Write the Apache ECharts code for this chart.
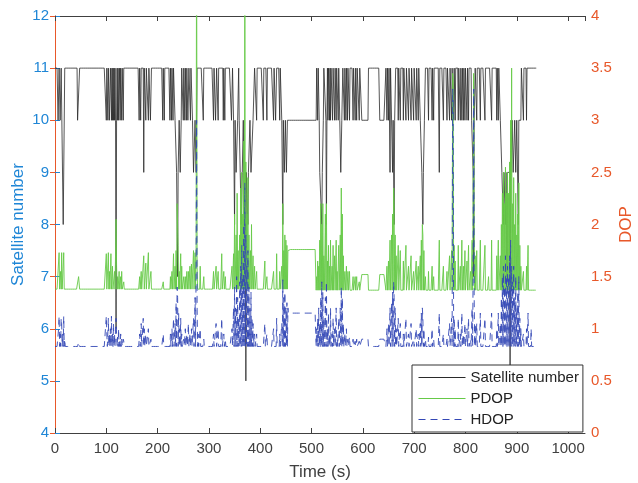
<!DOCTYPE html>
<html>
<head>
<meta charset="utf-8">
<script src="https://cdn.jsdelivr.net/npm/echarts@6/dist/echarts.min.js"></script>
<style>
  html, body { margin: 0; padding: 0; background: #fff; }
  #chart { width: 638px; height: 483px; }
</style>
</head>
<body>
<div id="chart"></div>
<script>
// satellite number: [time s, value] - value holds until the next change
var satSteps = [
  [0,11],[6,10],[8,11],[10,10],[12,11],[16,8],[19,11],[44,10],[48,11],
  [100,10],[101,11],[103,10],[104,11],[106,10],[108,11],[110,10],[111,11],[112,10],[113,11],[114,10],[115,11],[116,10],[117,11],[118,10],[119,6],[120,10],[121,11],[122,10],[123,11],[124,10],[126,11],[127,10],[128,11],[130,10],[131,11],[133,10],[134,11],
  [164,10],[165,11],[167,10],[168,11],[173,9],[174,11],[177,10],[178,11],[182,10],[183,11],[186,10],[188,11],
  [210,10],[211,11],[213,10],[214,11],
  [224,10],[225,11],[227,10],[228,11],[230,10],[231,11],[234,10],[237,9],[239,7],[240,9],[242,10],[244,9],[246,10],[247,11],
  [250,10],[251,11],[253,10],[254,11],[256,10],[257,11],[259,10],[261,11],[264,10],[265,11],[268,10],[270,9],[273,10],[275,9],[277,11],
  [289,10],[290,11],[309,10],[310,11],[313,10],[315,11],[318,10],[319,11],[328,10],[329,11],[331,10],[332,11],[344,10],[346,11],[348,10],[350,8],[351,10],[353,9],[356,10],[358,11],[359,10],[361,9],[363,8],[365,9],[367,10],[369,8],[371,9],[372,5],[373,9],[376,8],[377,9],[380,10],[382,9],[386,10],[389,11],
  [393,10],[394,11],[406,10],[407,11],[413,10],[414,11],[426,10],[427,11],[430,10],[432,11],[438,10],[439,11],
  [442,10],[444,8],[445,10],[447,9],[449,10],[451,9],[453,10],
  [510,11],[512,10],[513,11],[515,10],[516,9],[520,8],[521,9],[523,10],[524,11],[528,10],[529,8],[530,10],[531,11],[532,10],[533,11],[535,10],[536,11],[537,10],[538,11],[541,10],[542,11],[545,10],[546,11],[548,10],[549,11],[552,10],[553,11],[555,10],[557,9],[559,10],[561,11],[564,10],[565,11],[567,10],[568,11],[570,10],[571,11],[574,10],[575,11],[581,10],[582,11],[585,10],[586,11],[588,10],[589,11],[593,10],[594,11],
  [598,10],[611,11],[633,10],[645,11],[647,10],[648,11],[650,10],[651,11],[653,9],[654,11],[658,9],[659,10],[661,8],[662,10],[664,11],
  [669,10],[670,11],[673,10],[674,11],[679,10],[680,11],[684,10],[685,11],[689,10],[690,11],[694,10],[695,11],[699,10],[700,11],[704,10],[705,11],[708,10],[709,11],[712,10],[715,9],[717,8],[718,9],[720,10],[722,11],
  [728,10],[729,11],[735,10],[736,11],[738,10],[739,11],[749,9],[750,11],[757,10],[758,11],[764,10],[765,11],
  [769,10],[770,11],[773,10],[774,11],[777,10],[778,11],[780,10],[781,11],[786,10],[787,11],[790,10],[791,11],[793,10],[794,11],[796,10],[797,11],[799,10],[800,11],[803,10],[804,11],[806,10],[807,11],[812,10],[815,9],[816,7],[817,10],[819,11],
  [822,10],[823,11],[829,10],[830,11],[838,10],[839,11],[851,10],[852,11],[861,10],[862,11],[864,10],[865,11],
  [868,10],[871,9],[874,8],[875,9],[878,8],[879,9],[881,7],[882,9],[887,5],[888,9],[891,10],[893,9],[896,10],[898,9],[900,10],[903,8],[904,10],[909,11],[913,10],[914,11],[919,10],[920,11]
];
var endTime = 938;

// DOP base levels [start time, level]
var pdopBase = [[0,1.38],[455,1.76],[509,1.37],[598,1.52],[611,1.37],[633,1.52],[645,1.37]];
var hdopBase = [[0,0.83],[455,1.15],[509,0.83],[598,0.9],[611,0.83],[633,0.9],[645,0.83]];

// single-second DOP peaks [time s, value]
var pdopPeaks = [
  [8,1.73],[11,1.55],[13,1.73],[17,1.73],[46,1.5],[47,1.5],
  [100,1.72],[104,1.73],[106,1.55],[109,1.72],[112,1.6],[116,1.55],[119,2.05],[120,1.6],[122,1.5],[125,1.55],[128,1.5],[130,1.55],[134,1.45],
  [165,1.5],[168,1.55],[173,1.7],[177,1.63],[182,1.73],[187,1.55],
  [211,1.45],[225,1.5],[228,1.55],[231,1.72],[234,1.6],[236,1.75],[238,2.2],[239,2.2],[240,1.8],[242,1.55],[245,1.72],[247,1.6],[251,1.5],[254,1.5],[257,1.55],[260,1.55],[263,1.6],[266,1.62],[270,1.75],[273,1.73],[275,1.8],[276,5],[277,1.6],[283,1.6],
  [290,1.5],[309,1.55],[314,1.6],[318,1.55],[325,1.72],[329,1.55],[332,1.5],[345,1.6],[348,1.72],[350,2.1],[353,1.9],[355,2.3],[357,1.75],[360,1.9],[362,2.35],[364,2.5],[366,2.1],[368,2.8],[370,5],[372,2.6],[374,2.1],[376,2.45],[378,1.9],[381,1.75],[383,2.0],[386,1.7],[389,1.6],[393,1.55],
  [409,1.65],[413,1.5],[426,1.55],[432,1.72],[438,1.55],[442,1.6],[444,2.2],[446,1.75],[448,1.9],[450,1.85],[452,1.8],[454,1.75],
  [510,1.5],[512,1.65],[514,1.6],[516,1.85],[518,2.2],[520,2.0],[522,2.2],[524,1.7],[527,2.1],[529,2.2],[531,1.65],[533,1.8],[535,1.6],[537,1.85],[540,1.6],[542,1.8],[545,1.7],[548,1.85],[550,1.55],[553,1.8],[556,1.9],[558,2.35],[560,2.1],[562,1.7],[565,1.55],[568,1.6],[571,1.55],[574,1.55],[581,1.5],[585,1.5],[588,1.5],[593,1.45],
  [647,1.6],[650,1.65],[653,1.85],[656,1.9],[658,2.1],[660,2.35],[661,2.2],[663,1.9],[665,1.7],[669,1.8],[673,1.75],[679,1.65],[684,1.8],[689,1.6],[694,1.7],[699,1.55],[704,1.65],[708,1.6],[712,1.7],[714,1.85],[716,2.0],[717,1.9],[719,1.75],[722,1.5],
  [728,1.55],[735,1.6],[738,1.5],[749,1.85],[757,1.6],[764,1.55],
  [769,1.7],[773,1.75],[775,3.45],[776,3.4],[778,1.8],[780,1.65],[786,1.8],[790,1.6],[793,1.85],[796,1.6],[799,1.75],[803,1.65],[806,1.8],[810,1.55],[813,1.85],[815,2.3],[816,3.45],[817,2.0],[819,1.7],
  [822,1.75],[829,1.85],[838,1.8],[845,1.5],[851,1.85],[861,1.7],[864,1.85],
  [868,1.7],[870,2.0],[872,2.3],[874,2.5],[876,2.2],[878,2.55],[880,2.3],[882,2.5],[884,2.3],[886,2.6],[888,3.0],[890,3.5],[892,2.2],[894,2.45],[896,2.0],[898,2.3],[900,1.9],[902,2.1],[904,2.4],[906,1.8],[908,1.6],
  [913,1.55],[919,1.6],[922,1.8]
];
var hdopPeaks = [
  [7,1.0],[8,1.12],[10,0.95],[12,1.1],[13,1.05],[15,0.95],[17,1.12],[19,0.9],[46,0.87],[47,0.88],
  [100,1.12],[101,0.95],[104,1.1],[106,0.95],[108,1.0],[110,1.12],[112,0.95],[114,1.05],[116,0.95],[118,1.0],[119,1.1],[120,0.95],[122,0.92],[124,1.0],[126,0.9],[128,0.95],[130,0.9],[133,0.9],[134,0.88],
  [165,0.95],[168,1.05],[172,1.1],[174,1.0],[177,0.95],[182,1.0],[187,0.9],
  [211,0.95],[225,0.95],[228,1.0],[231,1.1],[234,1.05],[236,1.25],[238,1.4],[239,1.3],[241,1.15],[243,1.0],[245,1.1],[247,0.95],[251,0.9],[254,1.0],[257,0.95],[260,1.05],[263,0.95],[266,1.0],[270,1.1],[273,1.3],[275,1.6],[276,3.0],[277,1.2],[279,0.95],[283,1.0],
  [290,0.9],[309,0.95],[314,1.05],[318,1.0],[325,1.1],[329,0.95],[332,0.9],[345,1.0],[348,1.2],[350,1.4],[352,1.2],[354,1.5],[356,1.3],[358,1.1],[360,1.45],[362,1.6],[364,1.8],[366,1.5],[368,2.0],[370,2.4],[372,1.9],[374,1.6],[376,1.75],[378,1.4],[380,1.2],[382,1.35],[384,1.1],[386,1.05],[389,0.95],[393,0.95],
  [409,1.05],[413,0.95],[426,1.0],[432,1.1],[438,0.95],[442,1.05],[444,1.47],[446,1.3],[448,1.35],[450,1.2],[452,1.25],[454,1.2],
  [510,1.0],[512,1.1],[514,1.2],[516,1.05],[518,1.3],[520,1.45],[522,1.35],[524,1.1],[527,1.3],[529,1.45],[531,1.0],[533,1.15],[535,0.95],[537,1.2],[540,0.95],[542,1.1],[545,1.0],[548,1.2],[550,0.9],[553,1.1],[556,1.2],[558,1.4],[560,1.3],[562,1.05],[565,0.95],[568,1.0],[571,0.9],[574,0.92],[581,0.9],[585,0.88],[588,0.9],[593,0.88],
  [647,1.0],[650,1.05],[653,1.2],[656,1.25],[658,1.35],[660,1.45],[661,1.3],[663,1.2],[665,1.0],[669,1.1],[673,1.05],[679,0.95],[684,1.1],[689,0.95],[694,1.05],[699,0.9],[704,1.0],[708,0.95],[712,1.05],[714,1.15],[716,1.2],[717,1.1],[719,1.0],[722,0.9],
  [728,0.92],[735,1.0],[738,0.9],[749,1.15],[757,0.95],[764,0.9],
  [769,1.05],[773,1.1],[775,3.3],[776,3.2],[778,1.1],[780,1.0],[786,1.1],[790,0.95],[793,1.15],[796,0.95],[799,1.05],[803,1.0],[806,1.1],[810,0.9],[813,1.2],[815,1.6],[816,3.3],[817,1.3],[819,1.05],
  [822,1.05],[829,1.15],[838,1.1],[851,1.15],[861,1.0],[864,1.15],
  [868,1.05],[870,1.3],[872,1.5],[874,1.6],[876,1.4],[878,1.7],[880,1.5],[882,1.6],[884,1.5],[886,1.7],[888,1.85],[890,1.6],[892,1.45],[894,1.6],[896,1.3],[898,1.5],[900,1.2],[902,1.35],[904,1.5],[906,1.1],[908,1.0],
  [913,0.95],[919,1.0],[922,1.15],[928,1.0]
];

// expand the step lists into one point per second
function levelAt(steps, t) {
  var v = steps[0][1];
  for (var i = 0; i < steps.length; i++) {
    if (steps[i][0] <= t) v = steps[i][1]; else break;
  }
  return v;
}
function buildSeries(base, peaks) {
  var map = {};
  peaks.forEach(function (p) { map[p[0]] = p[1]; });
  var out = [];
  for (var t = 0; t <= endTime; t++) {
    out.push([t, map[t] !== undefined ? map[t] : levelAt(base, t)]);
  }
  return out;
}
var satData = buildSeries(satSteps, []);
var pdopData = buildSeries(pdopBase, pdopPeaks);
var hdopData = buildSeries(hdopBase, hdopPeaks);

var FONT = '"Liberation Sans", Arial, sans-serif';
var BLUE = '#1f86d6';
var ORANGE = '#e8582a';
var GREY = '#404040';
var BLACK = '#2a2a2a';
var GREEN = '#66c947';
var DBLUE = '#3347b5';

var chart = echarts.init(document.getElementById('chart'));
chart.setOption({
  animation: false,
  textStyle: { fontFamily: FONT },
  grid: { left: 55, right: 53, top: 16, bottom: 50, containLabel: false, outerBoundsMode: 'none' },
  legend: {
    left: 412, top: 365,
    orient: 'vertical',
    data: ['Satellite number', 'PDOP', 'HDOP'],
    itemWidth: 47, itemHeight: 14, itemGap: 6,
    padding: [5, 4, 5, 6],
    backgroundColor: '#fff',
    borderColor: '#333', borderWidth: 1, borderRadius: 0,
    itemStyle: { opacity: 0 },
    lineStyle: { width: 1 },
    textStyle: { fontSize: 15, color: '#222', fontFamily: FONT }
  },
  xAxis: [{
    type: 'value', min: 0, max: 1033, interval: 100, position: 'bottom',
    name: 'Time (s)', nameLocation: 'middle', nameGap: 31, nameMoveOverlap: false,
    nameTextStyle: { fontSize: 17, color: GREY, fontFamily: FONT },
    axisLine: { lineStyle: { color: GREY, width: 1 } },
    axisTick: { inside: true, length: 5, lineStyle: { color: GREY } },
    axisLabel: { fontSize: 15, color: GREY, margin: 8, showMaxLabel: false,
      formatter: function (v) { return String(v); } },
    splitLine: { show: false }
  }, {
    type: 'value', min: 0, max: 1033, interval: 100, position: 'top',
    axisLine: { show: true, lineStyle: { color: GREY, width: 1 } },
    axisTick: { inside: true, length: 5, lineStyle: { color: GREY } },
    axisLabel: { show: false },
    splitLine: { show: false }
  }],
  yAxis: [{
    type: 'value', min: 4, max: 12, interval: 1, position: 'left',
    name: 'Satellite number', nameLocation: 'middle', nameGap: 28, nameRotate: 90, nameMoveOverlap: false,
    nameTextStyle: { fontSize: 17, color: BLUE, fontFamily: FONT },
    axisLine: { show: true, lineStyle: { color: BLUE, width: 1 } },
    axisTick: { show: true, inside: true, length: 5, lineStyle: { color: BLUE } },
    axisLabel: { fontSize: 15, color: BLUE, margin: 6 },
    splitLine: { show: false }
  }, {
    type: 'value', min: 0, max: 4, interval: 0.5, position: 'right',
    name: 'DOP', nameLocation: 'middle', nameGap: 33, nameRotate: 90, nameMoveOverlap: false,
    nameTextStyle: { fontSize: 17, color: ORANGE, fontFamily: FONT },
    axisLine: { show: true, lineStyle: { color: ORANGE, width: 1 } },
    axisTick: { show: true, inside: true, length: 5, lineStyle: { color: ORANGE } },
    axisLabel: { fontSize: 15, color: ORANGE, margin: 6 },
    splitLine: { show: false }
  }],
  series: [{
    name: 'Satellite number', type: 'line', xAxisIndex: 0, yAxisIndex: 0,
    data: satData, showSymbol: false, symbol: 'none', clip: true,
    lineStyle: { color: BLACK, width: 0.8 }, itemStyle: { color: BLACK }
  }, {
    name: 'PDOP', type: 'line', xAxisIndex: 0, yAxisIndex: 1,
    data: pdopData, showSymbol: false, symbol: 'none', clip: true,
    lineStyle: { color: GREEN, width: 0.9 }, itemStyle: { color: GREEN }
  }, {
    name: 'HDOP', type: 'line', xAxisIndex: 0, yAxisIndex: 1,
    data: hdopData, showSymbol: false, symbol: 'none', clip: true,
    lineStyle: { color: DBLUE, width: 0.9, type: [7, 5] }, itemStyle: { color: DBLUE }
  }]
});
</script>
</body>
</html>
